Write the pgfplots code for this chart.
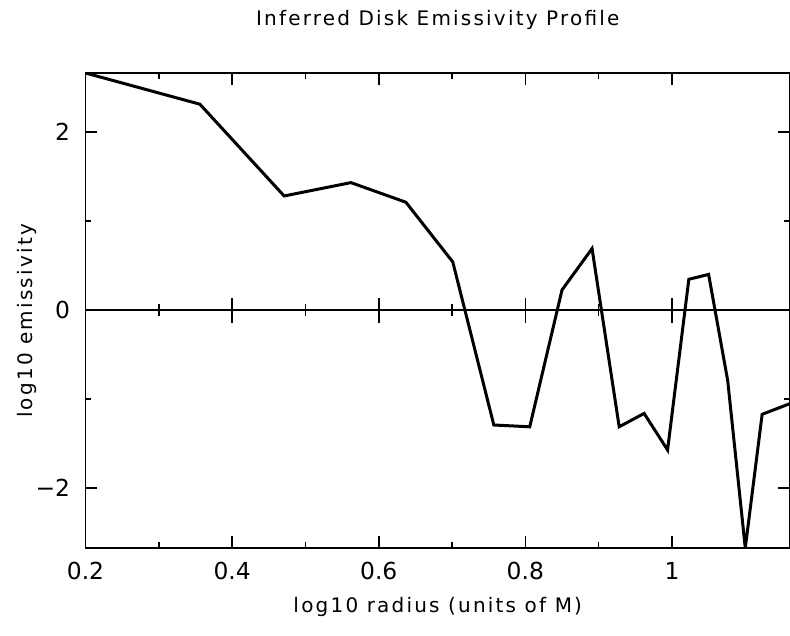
\documentclass[border=0pt]{standalone}
\usepackage{fontspec}
\setmainfont{DejaVu Sans}
\newfontfamily\lblfont{DejaVu Sans}[LetterSpace=11]
\usepackage{pgfplots}
\pgfplotsset{compat=1.18}

\pgfplotstableread{
r       e
0.200   2.66
0.356   2.31
0.471   1.28
0.562   1.43
0.637   1.21
0.701   0.54
0.757  -1.29
0.806  -1.31
0.850   0.225
0.891   0.69
0.928  -1.31
0.962  -1.16
0.994  -1.57
1.023   0.345
1.050   0.40
1.076  -0.79
1.100  -2.67
1.123  -1.17
1.161  -1.05
}\emissivity

\pgfplotsset{
  diskframe/.style={
    scale only axis, width=352.25pt, height=237.5pt,
    xmin=0.2, xmax=1.161, ymin=-2.67, ymax=2.66,
    xtick={0.2,0.4,0.6,0.8,1.0}, minor x tick num=1,
    ytick={-2,0,2}, minor y tick num=1,
    axis line style={line width=0.8pt},
    every tick/.style={black, line width=0.8pt},
  }
}

\begin{document}
\begin{tikzpicture}
\begin{axis}[diskframe,
  xticklabels={0.2,0.4,0.6,0.8,1},
  yticklabels={−2,0,2},
  tick align=inside, major tick length=6pt, minor tick length=3pt,
  /pgf/number format/assume math mode=true,
  tick label style={font=\fontsize{11.7}{14}\selectfont},
  xticklabel style={inner sep=0pt, anchor=north, yshift=-7pt},
  yticklabel style={inner sep=0pt, anchor=east, xshift=-7.5pt},
  title={Inferred Disk Emissivity Profile},
  title style={font=\lblfont\fontsize{10}{12}\selectfont, at={(axis description cs:0.5,1)}, anchor=base, yshift=17.5pt, inner sep=0pt},
  xlabel={log10 radius (units of M)},
  xlabel style={font=\lblfont\fontsize{10}{12}\selectfont, at={(axis description cs:0.5,0)}, anchor=base, yshift=-32.5pt, inner sep=0pt},
  ylabel={log10 emissivity},
  ylabel style={font=\lblfont\fontsize{10}{12}\selectfont, at={(axis description cs:0,0.478)}, anchor=base, yshift=26.25pt, inner sep=0pt},
]
\addplot[black, line width=1.5pt, line join=miter] table[x=r, y=e] {\emissivity};
\end{axis}
% zero line with centred ticks, as in the original
\begin{axis}[diskframe,
  axis x line=middle, axis y line=none,
  every inner x axis line/.append style={-},
  xticklabels={}, ytick=\empty,
  tick align=center, major tick length=12.5pt, minor tick length=6pt,
]
\end{axis}
\pgfresetboundingbox
\path[use as bounding box] ([shift={(-42.75pt,-44pt)}]current axis.south west) rectangle ([shift={(0pt,36.5pt)}]current axis.north east);
\end{tikzpicture}
\end{document}
